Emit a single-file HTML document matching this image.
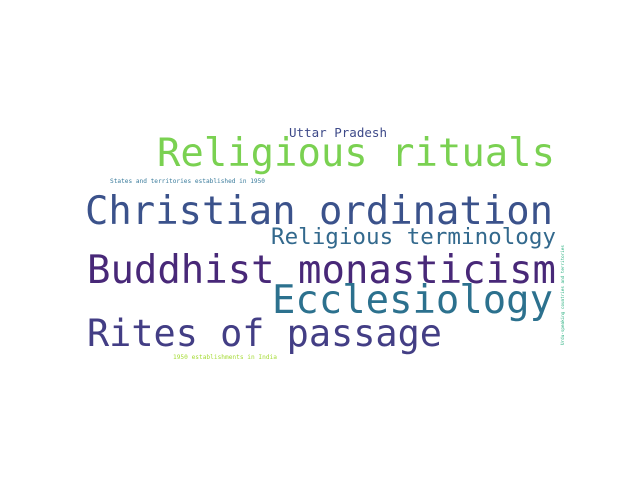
<!DOCTYPE html>
<html><head><meta charset="utf-8"><style>
html,body{margin:0;padding:0;background:#fff;}
svg{display:block;}
text{font-family:"DejaVu Sans Mono","Liberation Mono",monospace;}
</style></head><body>
<svg width="640" height="480" viewBox="0 0 640 480">
<rect width="640" height="480" fill="#fff"/>
<text x="289" y="137" font-size="12.5" fill="#3e4a89" textLength="98" lengthAdjust="spacingAndGlyphs">Uttar Pradesh</text>
<text x="157" y="166" font-size="39" fill="#7ad151" textLength="398" lengthAdjust="spacingAndGlyphs">Religious rituals</text>
<text x="110" y="183" font-size="6" fill="#3b7c9c" textLength="155" lengthAdjust="spacingAndGlyphs">States and territories established in 1950</text>
<text x="85" y="224" font-size="39" fill="#3b528b" textLength="468" lengthAdjust="spacingAndGlyphs">Christian ordination</text>
<text x="271" y="244" font-size="22" fill="#33698d" textLength="285" lengthAdjust="spacingAndGlyphs">Religious terminology</text>
<text x="87" y="283" font-size="39" fill="#482878" textLength="469" lengthAdjust="spacingAndGlyphs">Buddhist monasticism</text>
<text x="272" y="313" font-size="39" fill="#2c718e" textLength="281" lengthAdjust="spacingAndGlyphs">Ecclesiology</text>
<text x="87" y="346" font-size="37" fill="#433e85" textLength="355" lengthAdjust="spacingAndGlyphs">Rites of passage</text>
<text x="173" y="359" font-size="6" fill="#a5db36" textLength="104" lengthAdjust="spacingAndGlyphs">1950 establishments in India</text>
<text x="0" y="0" font-size="4.5" fill="#29af7f" textLength="100" lengthAdjust="spacingAndGlyphs" transform="translate(564,345) rotate(-90)">Urdu-speaking countries and territories</text>
</svg>
</body></html>
